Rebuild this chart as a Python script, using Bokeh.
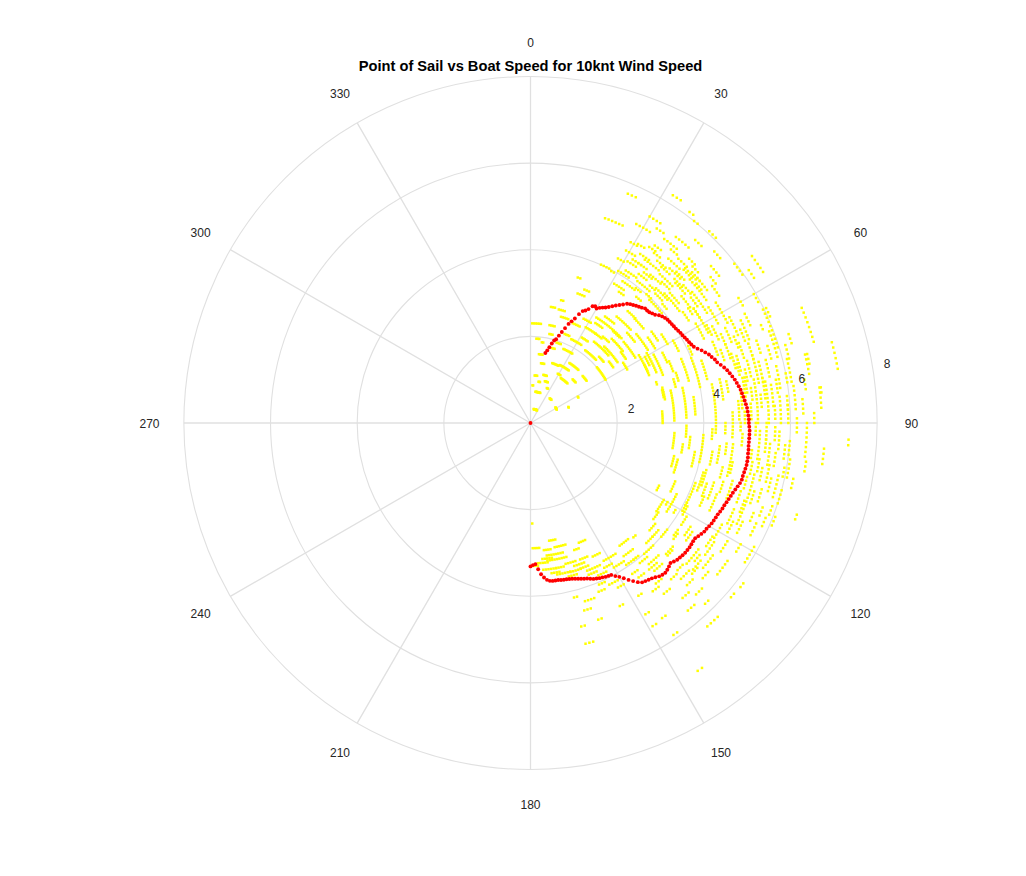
import numpy as np
from bokeh.plotting import figure
from bokeh.models import Range1d
from bokeh.core.properties import value
from bokeh.embed import file_html
from bokeh.resources import INLINE

# --- data: point of sail (deg, clockwise from wind) vs boat speed (knots) ---
# red: mean polar curve
red_angle = [0] + list(range(12, 181))
red_speed = [
    0.00,
    1.65, 1.72, 1.80, 1.90, 1.98, 2.02, 2.12, 2.22, 2.33, 2.45,   # 12-21
    2.53, 2.62, 2.75, 2.85, 2.89, 2.95, 3.05, 3.08, 3.05, 3.10,   # 22-31
    3.14, 3.18, 3.23, 3.29, 3.35, 3.41, 3.47, 3.54, 3.58, 3.61,   # 32-41
    3.64, 3.67, 3.70, 3.74, 3.74, 3.75, 3.78, 3.81, 3.87, 3.91,   # 42-51
    3.94, 3.96, 3.97, 3.98, 3.99, 4.00, 4.02, 4.04, 4.05, 4.07,   # 52-61
    4.09, 4.11, 4.13, 4.16, 4.22, 4.29, 4.35, 4.41, 4.45, 4.50,   # 62-71
    4.53, 4.59, 4.65, 4.70, 4.74, 4.78, 4.82, 4.85, 4.88, 4.91,   # 72-81
    4.93, 4.95, 4.97, 4.99, 5.01, 5.02, 5.03, 5.04, 5.04, 5.05,   # 82-91
    5.06, 5.06, 5.06, 5.06, 5.06, 5.07, 5.07, 5.08, 5.08, 5.08,   # 92-101
    5.07, 5.06, 5.05, 5.05, 5.03, 5.00, 4.97, 4.94, 4.92, 4.90,   # 102-111
    4.88, 4.86, 4.85, 4.83, 4.81, 4.80, 4.79, 4.78, 4.76, 4.74,   # 112-121
    4.73, 4.70, 4.67, 4.64, 4.64, 4.65, 4.66, 4.66, 4.66, 4.65,   # 122-131
    4.64, 4.63, 4.60, 4.57, 4.60, 4.63, 4.65, 4.64, 4.62, 4.58,   # 132-141
    4.55, 4.53, 4.51, 4.49, 4.43, 4.35, 4.27, 4.18, 4.10, 4.04,   # 142-151
    3.97, 3.96, 3.95, 3.93, 3.92, 3.90, 3.88, 3.85, 3.82, 3.80,   # 152-161
    3.78, 3.76, 3.74, 3.72, 3.71, 3.70, 3.70, 3.69, 3.68, 3.68,   # 162-171
    3.68, 3.67, 3.64, 3.58, 3.50, 3.38, 3.26, 3.28, 3.31,         # 172-180
]

# yellow: raw samples, recorded as runs of consecutive whole degrees at one speed
# (first angle, last angle, speed)
runs = [
    # near the centre
    (1, 6, 2.30), (8, 9, 1.88), (11, 13, 0.97), (3, 4, 0.87), (9, 18, 0.73),
    (13, 27, 0.33), (38, 42, 0.72), (25, 27, 0.89), (58, 63, 0.68), (67, 68, 0.95),
    (61, 62, 1.25), (20, 26, 1.47), (27, 36, 1.50), (34, 43, 1.25), (33, 42, 1.65),
    (48, 53, 1.62), (15, 19, 1.15), (19, 23, 1.02), (10, 13, 1.40), (5, 8, 1.10),
    (24, 31, 1.87), (29, 32, 1.30), (44, 48, 1.40), (16, 18, 1.80), (18, 21, 1.95),
    (7, 10, 1.60), (11, 14, 2.30), (4, 6, 1.95),
    # close reach, inside the curve
    (10, 12, 2.72), (14, 17, 2.70), (14, 15, 2.92), (18, 19, 3.53), (22, 24, 3.32),
    (20, 23, 3.18), (16, 20, 2.55), (12, 14, 2.10), (26, 33, 2.15), (37, 46, 2.10),
    (38, 49, 2.38), (50, 60, 2.00), (32, 47, 2.87), (44, 52, 2.70), (44, 55, 2.45),
    (49, 58, 2.85), (58, 66, 2.95), (39, 47, 3.16), (50, 58, 3.19), (59, 68, 3.13),
    (61, 70, 3.25), (66, 70, 3.50), (62, 66, 3.45), (30, 36, 2.55), (40, 44, 2.60),
    (52, 56, 2.30), (45, 50, 3.40), (35, 40, 3.00), (53, 57, 3.50), (56, 60, 3.65),
    (41, 45, 3.42), (21, 24, 2.20), (23, 27, 2.50), (27, 31, 2.70), (31, 35, 2.30),
    (33, 37, 2.75), (36, 40, 2.55), (42, 46, 2.85), (46, 50, 2.20), (47, 52, 3.05),
    (52, 56, 2.65), (54, 59, 3.35), (57, 61, 2.55), (60, 64, 3.05),
    # close reach, outside the curve
    (24, 27, 4.00), (28, 30, 4.30), (28, 29, 3.97), (31, 33, 4.82), (29, 31, 4.77),
    (30, 34, 4.05), (32, 36, 4.15), (33, 38, 3.90), (34, 37, 4.45), (35, 40, 4.60),
    (36, 39, 4.25), (37, 42, 4.10), (38, 41, 4.75), (39, 43, 4.40), (40, 44, 4.95),
    (41, 46, 4.55), (42, 45, 5.10), (43, 48, 4.25), (44, 47, 4.85), (45, 49, 5.05),
    (46, 50, 4.65), (47, 51, 4.40), (48, 52, 4.95), (49, 53, 5.10), (50, 54, 4.55),
    (51, 55, 4.80), (53, 56, 5.25), (54, 57, 4.35), (55, 58, 4.60), (30, 32, 5.20),
    (33, 35, 5.35), (36, 40, 5.25), (38, 42, 5.45), (42, 44, 5.68), (44, 46, 5.27),
    (47, 50, 5.10), (50, 52, 5.00), (20, 25, 5.03), (23, 25, 5.75), (30, 33, 5.50),
    (28, 29, 5.20), (32, 34, 6.20), (37, 38, 6.10), (39, 40, 6.00), (43, 45, 6.05),
    (47, 49, 5.80), (49, 52, 5.52), (52, 55, 5.97), (53, 57, 6.40), (55, 57, 6.15),
    (45, 48, 5.00), (31, 35, 3.75), (40, 42, 3.80), (34, 36, 3.65), (44, 46, 3.95),
    (48, 50, 4.10), (29, 32, 4.55), (31, 34, 4.35), (33, 36, 4.65), (35, 37, 5.00),
    (36, 38, 4.85), (37, 40, 4.35), (39, 41, 5.15), (40, 43, 4.70), (41, 43, 4.20),
    (42, 46, 4.80), (43, 46, 4.45), (45, 48, 4.70), (46, 49, 4.30), (46, 48, 5.20),
    (48, 51, 4.75), (50, 53, 4.30), (51, 53, 5.35), (52, 55, 4.70), (53, 55, 4.95),
    (54, 56, 4.50), (56, 58, 4.80), (57, 59, 5.10), (32, 35, 4.45), (34, 36, 4.90),
    (38, 40, 3.95), (42, 44, 4.00), (44, 47, 4.15), (47, 50, 3.95),
    # beam reach, inside the curve
    (68, 78, 4.00), (70, 76, 4.20), (78, 93, 4.28), (67, 75, 3.78), (72, 73, 3.05),
    (75, 80, 3.15), (63, 68, 2.95), (77, 89, 3.32), (76, 79, 3.13), (85, 90, 3.05),
    (77, 88, 3.60), (81, 87, 3.81), (71, 74, 3.55), (60, 64, 3.80), (64, 67, 4.05),
    (73, 76, 3.45),
    # beam reach, outside the curve
    (62, 67, 5.20), (64, 69, 5.40), (75, 80, 5.45), (64, 73, 5.97), (77, 82, 5.82),
    (67, 74, 6.80), (76, 80, 6.53), (83, 87, 6.72), (75, 80, 7.20), (55, 63, 4.60),
    (57, 62, 4.90), (59, 64, 4.45), (62, 66, 4.75), (64, 68, 5.00), (66, 70, 4.60),
    (68, 72, 4.85), (69, 73, 5.15), (70, 74, 5.35), (72, 76, 5.00), (74, 78, 5.20),
    (75, 79, 5.62), (78, 82, 5.05), (67, 68, 5.78), (64, 66, 6.05), (69, 75, 5.90),
    (76, 81, 6.10), (76, 78, 6.58), (79, 90, 5.25), (79, 84, 5.45), (80, 90, 5.50),
    (81, 86, 5.62), (84, 90, 5.78), (82, 87, 6.13), (81, 83, 6.40), (83, 84, 6.75),
    (77, 83, 4.48), (78, 81, 4.62), (84, 89, 4.82), (87, 94, 4.67), (88, 90, 6.55),
    (86, 90, 5.95), (85, 88, 6.30), (59, 61, 5.60), (60, 62, 5.95), (71, 73, 6.30),
    (60, 63, 5.10), (61, 64, 4.65), (63, 66, 5.55), (65, 68, 4.85), (66, 69, 5.30),
    (67, 70, 5.10), (69, 72, 4.70), (70, 73, 5.55), (71, 75, 4.90), (72, 75, 5.75),
    (73, 77, 5.35), (74, 77, 4.95), (76, 79, 5.10), (77, 80, 5.35), (78, 83, 5.00),
    (80, 83, 5.75), (81, 84, 5.15), (82, 86, 4.90), (83, 86, 5.35), (85, 89, 5.10),
    (86, 89, 5.65), (87, 90, 4.95), (84, 87, 5.95), (79, 81, 6.00), (73, 76, 6.15),
    # broad reach, inside the curve
    (94, 100, 3.33), (104, 109, 3.50), (94, 103, 4.00), (106, 112, 4.15), (103, 107, 3.40),
    (95, 99, 3.70), (109, 113, 4.30), (116, 118, 3.30), (116, 123, 3.75), (112, 116, 3.60),
    (100, 105, 3.85), (91, 95, 3.60), (97, 102, 4.40), (90, 93, 4.50), (118, 121, 4.10),
    (121, 122, 3.90), (111, 116, 4.60), (105, 110, 4.20), (108, 113, 4.45), (120, 125, 3.55),
    (117, 120, 4.05), (96, 105, 4.70), (90, 92, 4.85), (92, 95, 4.20), (96, 99, 4.55),
    (99, 103, 4.25), (101, 104, 4.75), (103, 106, 4.55), (107, 110, 4.65), (110, 113, 4.05),
    (113, 116, 4.35), (114, 118, 4.05), (98, 101, 3.55), (93, 96, 4.90),
    # broad reach, outside the curve
    (92, 99, 5.30), (90, 94, 5.45), (92, 96, 5.75), (98, 102, 6.05), (89, 92, 6.15),
    (90, 97, 6.38), (95, 98, 6.80), (98, 100, 6.42), (93, 94, 7.35), (102, 104, 6.20),
    (102, 107, 5.85), (100, 104, 5.60), (103, 112, 5.30), (106, 111, 4.85), (110, 113, 5.25),
    (112, 114, 5.55), (112, 114, 5.85), (109, 111, 5.90), (109, 110, 6.50), (113, 117, 5.10),
    (115, 118, 5.40), (106, 109, 5.55), (95, 100, 5.55), (100, 103, 5.20), (94, 97, 6.00),
    (97, 99, 5.15), (90, 93, 5.20), (91, 94, 5.65), (94, 97, 5.45), (95, 98, 5.90),
    (97, 100, 5.70), (99, 102, 5.35), (100, 102, 5.95), (101, 104, 5.45), (103, 106, 5.70),
    (104, 107, 5.15), (105, 108, 6.00), (107, 110, 5.40), (108, 111, 5.10), (110, 112, 5.70),
    (111, 113, 6.05), (113, 116, 5.30), (114, 117, 5.70), (116, 119, 5.20),
    # running
    (120, 121, 3.65), (125, 128, 3.60), (129, 132, 3.70), (126, 128, 4.20), (128, 131, 4.00),
    (137, 138, 3.55), (140, 144, 3.50), (141, 145, 3.75), (142, 146, 3.95), (135, 139, 4.00),
    (136, 140, 4.25), (137, 140, 4.45), (139, 142, 4.10), (131, 134, 4.35), (133, 136, 3.85),
    (123, 126, 4.40), (121, 124, 4.20), (144, 146, 4.20), (146, 150, 3.85), (147, 152, 3.60),
    (131, 132, 4.85), (131, 133, 5.10), (130, 132, 5.35), (134, 136, 5.20), (134, 136, 5.50),
    (135, 136, 5.80), (136, 139, 6.22), (133, 136, 5.00), (125, 129, 5.55), (122, 123, 5.90),
    (119, 121, 5.90), (127, 128, 6.15), (130, 131, 6.13), (145, 146, 5.90), (145, 146, 5.43),
    (148, 149, 5.15), (148, 149, 5.47), (145, 146, 6.90), (137, 139, 5.35), (138, 140, 5.65),
    (140, 142, 5.00), (142, 144, 4.80), (147, 148, 4.70), (123, 127, 5.05), (126, 130, 5.20),
    (121, 124, 5.30), (118, 122, 5.00), (128, 130, 4.95), (120, 122, 5.60),
    (122, 125, 4.95), (124, 127, 4.50), (127, 130, 4.85), (129, 132, 5.05), (132, 134, 4.40),
    (133, 135, 4.80), (136, 138, 4.85), (138, 141, 4.35), (140, 142, 4.70), (141, 143, 3.95),
    (143, 145, 4.35), (127, 129, 4.25), (130, 133, 3.85),
    # dead run
    (176, 179, 2.89), (179, 179, 2.32), (173, 177, 3.24), (166, 173, 3.08), (164, 169, 2.92),
    (159, 161, 3.10), (155, 158, 2.98), (169, 172, 3.50), (165, 170, 3.55), (161, 165, 3.56),
    (154, 159, 3.65), (165, 173, 3.20), (160, 163, 4.30), (162, 164, 4.50), (165, 166, 4.15),
    (165, 166, 4.84), (160, 161, 4.80), (164, 166, 5.25), (153, 154, 4.70), (150, 153, 3.75),
    (151, 154, 4.15), (157, 160, 3.35), (162, 166, 3.35), (170, 175, 3.40), (177, 179, 3.30),
    (156, 158, 4.20), (152, 155, 3.40), (168, 171, 2.75), (171, 174, 2.95),
    (153, 156, 3.85), (156, 159, 3.75), (158, 161, 3.55), (159, 163, 3.45), (163, 166, 3.65),
    (167, 170, 3.40), (171, 175, 3.15), (155, 157, 4.05), (150, 152, 4.30),
]

r_ticks = [2, 4, 6, 8]
theta_ticks = list(range(0, 360, 30))
title = "Point of Sail vs Boat Speed for 10knt Wind Speed"

# --- layout ---
W, H = 1010, 860
CX, CY = 530, 422.5        # centre of the polar axes, px from top-left
PX = 43.33                 # px per knot
RMAX = 8

def to_xy(ang, spd):
    a = np.radians(np.asarray(ang, dtype=float))
    s = np.asarray(spd, dtype=float)
    return s * np.sin(a), s * np.cos(a)

p = figure(width=W, height=H, output_backend="svg", toolbar_location=None,
           x_range=Range1d(-CX / PX, (W - CX) / PX),
           y_range=Range1d(-(H - CY) / PX, CY / PX),
           min_border=0)
p.axis.visible = False
p.grid.visible = False
p.outline_line_color = None
p.background_fill_color = "white"
p.border_fill_color = "white"

grid_col = "#e0e0e0"
# spokes
sx, sy = to_xy(theta_ticks, [RMAX] * len(theta_ticks))
p.segment(x0=0, y0=0, x1=sx, y1=sy, line_color=grid_col, line_width=1.3)
# rings
p.circle(x=[0] * len(r_ticks), y=[0] * len(r_ticks), radius=r_ticks,
         fill_color=None, line_color=grid_col, line_width=1.1)

# yellow samples
ya, ys = [], []
for a0, a1, s in runs:
    for a in range(a0, a1 + 1):
        ya.append(a)
        ys.append(s)
yx, yy = to_xy(ya, ys)
p.scatter(x=yx, y=yy, marker="square", size=2.5, fill_color="#ffff00",
          line_color=None)

# red mean curve
rx, ry = to_xy(red_angle, red_speed)
p.scatter(x=rx, y=ry, marker="circle", size=3.9, fill_color="#ff0000",
          line_color=None)

font = value("Liberation Sans")
# angle labels
lx, ly = to_xy(theta_ticks, [381 / PX] * len(theta_ticks))
p.text(x=lx, y=ly, text=[str(t) for t in theta_ticks], text_font=font,
       text_font_size="12px", text_color="#262626", text_align="center",
       text_baseline="middle")
# radius labels along 80 deg
tx, ty = to_xy([80] * len(r_ticks), r_ticks)
p.text(x=tx, y=ty, text=[str(r) for r in r_ticks], text_font=font,
       text_font_size="12px", text_color="#262626", text_align="left",
       text_baseline="middle", x_offset=12, y_offset=1)

# title
p.text(x=[0], y=[(CY - 65.5) / PX], text=[title], text_font=font,
       text_font_size="14.67px", text_font_style="bold", text_color="black",
       text_align="center", text_baseline="middle")

open("out.html", "w").write(file_html(p, INLINE))
